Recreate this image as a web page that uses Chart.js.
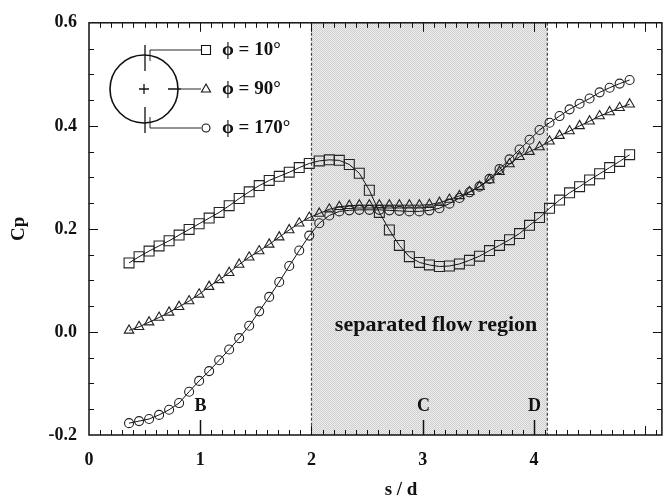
<!DOCTYPE html>
<html>
<head>
<meta charset="utf-8">
<script src="https://cdn.jsdelivr.net/npm/chart.js@4/dist/chart.umd.min.js"></script>
<style>
  html, body { margin: 0; padding: 0; background: #fff; }
  #wrap { width: 670px; height: 501px; }
</style>
</head>
<body>
<div id="wrap"><canvas id="cp-chart" width="670" height="501"></canvas></div>
<script>
// s/d positions of the taps
var sd = [0.36, 0.45, 0.54, 0.63, 0.72, 0.81, 0.90, 0.99, 1.08, 1.17,
          1.26, 1.35, 1.44, 1.53, 1.62, 1.71, 1.80, 1.89, 1.98, 2.07,
          2.16, 2.25, 2.34, 2.43, 2.52, 2.61, 2.70, 2.79, 2.88, 2.97,
          3.06, 3.15, 3.24, 3.33, 3.42, 3.51, 3.60, 3.69, 3.78, 3.87,
          3.96, 4.05, 4.14, 4.23, 4.32, 4.41, 4.50, 4.59, 4.68, 4.77, 4.86];

// Cp, phi = 10 deg (squares)
var cp10 = [0.134, 0.146, 0.157, 0.167, 0.177, 0.188, 0.199, 0.210, 0.221, 0.232,
            0.245, 0.259, 0.272, 0.284, 0.294, 0.302, 0.310, 0.319, 0.327, 0.332,
            0.334, 0.333, 0.325, 0.308, 0.275, 0.232, 0.198, 0.168, 0.146, 0.135,
            0.130, 0.127, 0.128, 0.132, 0.139, 0.147, 0.158, 0.168, 0.179, 0.191,
            0.207, 0.222, 0.240, 0.256, 0.270, 0.282, 0.295, 0.307, 0.319, 0.331, 0.344];

// Cp, phi = 90 deg (triangles)
var cp90 = [0.003, 0.010, 0.019, 0.028, 0.038, 0.049, 0.060, 0.073, 0.088, 0.101,
            0.115, 0.131, 0.145, 0.157, 0.170, 0.184, 0.198, 0.211, 0.222, 0.230,
            0.238, 0.243, 0.245, 0.246, 0.246, 0.246, 0.246, 0.246, 0.246, 0.246,
            0.247, 0.251, 0.257, 0.264, 0.272, 0.282, 0.295, 0.311, 0.326, 0.340,
            0.350, 0.359, 0.370, 0.381, 0.390, 0.400, 0.409, 0.419, 0.427, 0.435, 0.442];

// Cp, phi = 170 deg (circles)
var cp170 = [-0.177, -0.173, -0.169, -0.161, -0.151, -0.138, -0.116, -0.095, -0.076, -0.055,
             -0.034, -0.012, 0.012, 0.040, 0.068, 0.097, 0.128, 0.158, 0.187, 0.211,
             0.226, 0.234, 0.236, 0.237, 0.237, 0.237, 0.236, 0.235, 0.234, 0.234,
             0.236, 0.240, 0.249, 0.260, 0.271, 0.282, 0.297, 0.316, 0.335, 0.354,
             0.373, 0.392, 0.406, 0.419, 0.432, 0.443, 0.453, 0.465, 0.474, 0.482, 0.489];

var seriesNames = ['\u03D5 = 10\u00B0', '\u03D5 = 90\u00B0', '\u03D5 = 170\u00B0'];
var seriesMarks = ['rect', 'triangle', 'circle'];

var regionFrom = 2.0, regionTo = 4.12;
var stationNames = ['B', 'C', 'D'];
var stationPos = [1, 3, 4];

var serif = '"Liberation Serif", "DejaVu Serif", serif';

function pts(ys) {
    return sd.map(function(x, i) { return { x: x, y: ys[i] }; });
}

function makeStipple() {
    var c = document.createElement('canvas');
    c.width = 2; c.height = 2;
    var g = c.getContext('2d');
    g.fillStyle = '#ececec';
    g.fillRect(0, 0, 2, 2);
    g.fillStyle = '#d0d0d0';
    g.fillRect(0, 0, 1, 1);
    g.fillRect(1, 1, 1, 1);
    return c;
}

function drawMark(ctx, style, x, y) {
    ctx.beginPath();
    if (style === 'rect') {
        ctx.rect(x - 4.5, y - 4.5, 9, 9);
    } else if (style === 'triangle') {
        ctx.moveTo(x, y - 5);
        ctx.lineTo(x + 4.5, y + 3);
        ctx.lineTo(x - 4.5, y + 3);
        ctx.closePath();
    } else {
        ctx.arc(x, y, 4, 0, Math.PI * 2);
    }
    ctx.stroke();
}

var decor = {
    id: 'decor',
    beforeDatasetsDraw: function(chart) {
        var ctx = chart.ctx, a = chart.chartArea;
        var xs = chart.scales.x, ys = chart.scales.y;
        var x1 = xs.getPixelForValue(regionFrom), x2 = xs.getPixelForValue(regionTo);
        ctx.save();
        ctx.fillStyle = ctx.createPattern(makeStipple(), 'repeat');
        ctx.fillRect(x1, a.top, x2 - x1, a.bottom - a.top);
        ctx.strokeStyle = '#444';
        ctx.lineWidth = 1.2;
        ctx.setLineDash([3, 2]);
        [x1, x2].forEach(function(px) {
            ctx.beginPath();
            ctx.moveTo(px, a.top);
            ctx.lineTo(px, a.bottom);
            ctx.stroke();
        });
        ctx.setLineDash([]);
        ctx.fillStyle = '#111';
        ctx.font = 'bold 22px ' + serif;
        ctx.textAlign = 'center';
        ctx.textBaseline = 'middle';
        ctx.fillText('separated flow region', xs.getPixelForValue(3.12), ys.getPixelForValue(0.013));
        ctx.restore();
    },
    afterDatasetsDraw: function(chart) {
        var ctx = chart.ctx, a = chart.chartArea;
        var xs = chart.scales.x, ys = chart.scales.y;
        ctx.save();
        ctx.strokeStyle = '#111';
        ctx.fillStyle = '#111';

        // frame
        ctx.lineWidth = 1.5;
        ctx.strokeRect(a.left, a.top, a.right - a.left, a.bottom - a.top);

        // inward ticks
        ctx.lineWidth = 1;
        ctx.beginPath();
        for (var i = 1; i <= 51; i++) {
            var px = Math.round(xs.getPixelForValue(i / 10)) + 0.5;
            var len = i % 10 === 0 ? 9 : 5;
            ctx.moveTo(px, a.bottom); ctx.lineTo(px, a.bottom - len);
            ctx.moveTo(px, a.top); ctx.lineTo(px, a.top + len);
        }
        for (var j = -3; j < 12; j++) {
            var py = Math.round(ys.getPixelForValue(j * 0.05)) + 0.5;
            var l2 = j % 4 === 0 ? 9 : 5;
            ctx.moveTo(a.left, py); ctx.lineTo(a.left + l2, py);
            ctx.moveTo(a.right, py); ctx.lineTo(a.right - l2, py);
        }
        ctx.stroke();

        // stations B, C, D
        ctx.font = 'bold 18px ' + serif;
        ctx.textAlign = 'center';
        ctx.textBaseline = 'middle';
        stationNames.forEach(function(name, k) {
            var sx = Math.round(xs.getPixelForValue(stationPos[k])) + 0.5;
            ctx.lineWidth = 1.5;
            ctx.beginPath();
            ctx.moveTo(sx, a.bottom);
            ctx.lineTo(sx, a.bottom - 15);
            ctx.stroke();
            ctx.fillText(name, sx, a.bottom - 29);
        });

        // x axis title
        ctx.font = 'bold 19px ' + serif;
        ctx.fillText('s / d', 401, 490);

        // legend sketch: cylinder with tap positions
        var cx = 144, cy = 89, r = 34;
        ctx.lineWidth = 1.6;
        ctx.beginPath();
        ctx.arc(cx, cy, r, 0, Math.PI * 2);
        ctx.stroke();
        ctx.lineWidth = 1.3;
        ctx.beginPath();
        ctx.moveTo(cx - 5, cy); ctx.lineTo(cx + 5, cy);
        ctx.moveTo(cx, cy - 5); ctx.lineTo(cx, cy + 5);
        ctx.moveTo(cx + 1, cy - r - 10); ctx.lineTo(cx + 1, cy - r + 16);
        ctx.moveTo(cx + 1, cy + r - 16); ctx.lineTo(cx + 1, cy + r + 10);
        ctx.moveTo(cx + r - 10, cy); ctx.lineTo(cx + r + 3, cy);
        ctx.stroke();

        var rowY = [50, 89, 128];
        ctx.lineWidth = 0.9;
        ctx.beginPath();
        ctx.moveTo(cx + 6, cy - r + 6); ctx.lineTo(cx + 6, rowY[0]); ctx.lineTo(201, rowY[0]);
        ctx.moveTo(cx + r + 3, rowY[1]); ctx.lineTo(201, rowY[1]);
        ctx.moveTo(cx + 6, cy + r - 6); ctx.lineTo(cx + 6, rowY[2]); ctx.lineTo(201, rowY[2]);
        ctx.stroke();

        ctx.lineWidth = 1.1;
        ctx.font = 'bold 19px ' + serif;
        ctx.textAlign = 'left';
        seriesNames.forEach(function(name, k) {
            drawMark(ctx, seriesMarks[k], 206, rowY[k]);
            ctx.fillText(name, 222, rowY[k]);
        });
        ctx.restore();
    }
};

function lineSet(label, ys, style, radius) {
    return {
        label: label,
        data: pts(ys),
        borderColor: '#111',
        borderWidth: 1,
        backgroundColor: 'rgba(0,0,0,0)',
        pointStyle: style,
        pointRadius: radius,
        pointBorderWidth: 1.1,
        pointBorderColor: '#222',
        pointBackgroundColor: 'rgba(0,0,0,0)',
        tension: 0,
        fill: false
    };
}

var ctx = document.getElementById('cp-chart');
var myChart = new Chart(ctx, {
    type: 'line',
    data: {
        datasets: [
            lineSet(seriesNames[0], cp10, 'rect', 7),
            lineSet(seriesNames[1], cp90, 'triangle', 5.5),
            lineSet(seriesNames[2], cp170, 'circle', 4.5)
        ]
    },
    plugins: [decor],
    options: {
        responsive: false,
        devicePixelRatio: 1,
        animation: false,
        layout: { padding: { left: 0, top: 15, right: 1, bottom: 0 } },
        plugins: {
            legend: { display: false },
            tooltip: { enabled: false }
        },
        scales: {
            x: {
                type: 'linear',
                min: 0,
                max: 5.15,
                grid: { display: false, drawTicks: false },
                border: { display: false },
                afterFit: function(scale) { scale.height = 66; },
                afterBuildTicks: function(scale) {
                    scale.ticks = scale.ticks.filter(function(t) {
                        return Math.abs(t.value - Math.round(t.value)) < 1e-6;
                    });
                },
                ticks: {
                    stepSize: 1,
                    padding: 15,
                    color: '#111',
                    font: { family: serif, size: 18, weight: 'bold' },
                    maxRotation: 0,
                    callback: function(v) { return String(Math.round(v)); }
                }
            },
            y: {
                min: -0.2,
                max: 0.6,
                grid: { display: false, drawTicks: false },
                border: { display: false },
                afterFit: function(scale) { scale.width = 89; },
                title: {
                    display: true,
                    text: 'Cp',
                    color: '#111',
                    padding: { top: 8, bottom: 0 },
                    font: { family: serif, size: 19, weight: 'bold' }
                },
                ticks: {
                    stepSize: 0.2,
                    padding: 12,
                    color: '#111',
                    font: { family: serif, size: 18, weight: 'bold' },
                    callback: function(v) { return (Math.abs(v) < 1e-9 ? 0 : v).toFixed(1); }
                }
            }
        }
    }
});
</script>
</body>
</html>
